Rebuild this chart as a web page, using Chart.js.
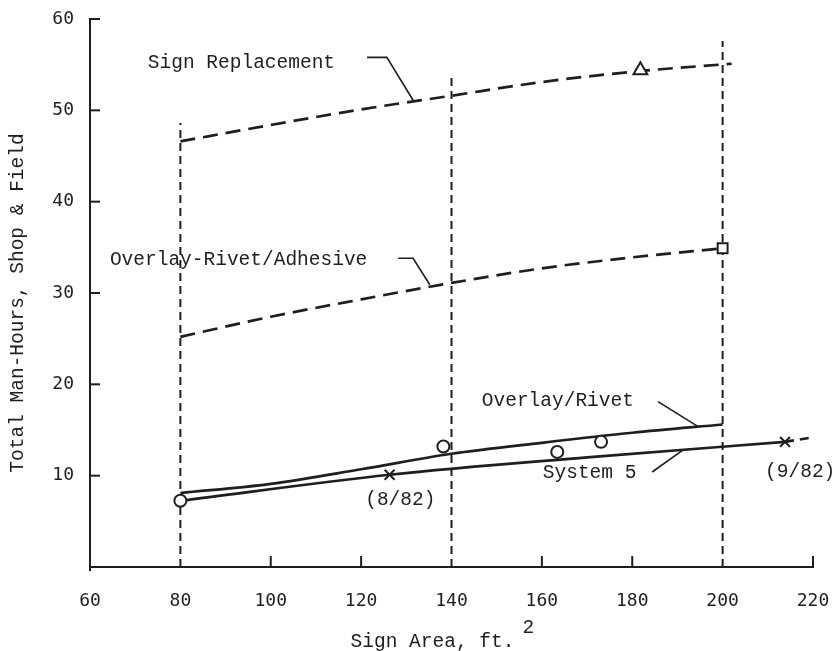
<!DOCTYPE html>
<html lang="en">
<head>
<meta charset="UTF-8">
<title>Total Man-Hours vs Sign Area</title>
<script src="https://cdn.jsdelivr.net/npm/chart.js"></script>
<style>
  body { margin: 0; background: #fff; }
</style>
</head>
<body>
<canvas id="chart" width="835" height="651"></canvas>
<script>
// values (x = sign area ft^2, y = man-hours)
var signReplX = [80, 100, 120, 140, 160, 181.8, 202];
var signReplY = [46.6, 48.4, 50.1, 51.6, 53.1, 54.3, 55.1];

var adhesiveX = [80, 100, 120, 140, 160, 180, 200];
var adhesiveY = [25.2, 27.4, 29.3, 31.1, 32.7, 33.9, 34.9];

var rivetX = [80, 100, 120, 140, 160, 180, 200];
var rivetY = [8.1, 9.1, 10.7, 12.4, 13.6, 14.7, 15.6];

var system5X = [80, 126.3, 170, 213.8];
var system5Y = [7.25, 10.1, 12.0, 13.7];
var system5ExtX = [213.8, 220];
var system5ExtY = [13.7, 14.2];

// observed points
var circleX = [80, 138.2, 163.4, 173.1];
var circleY = [7.25, 13.2, 12.6, 13.7];
var crossX = [126.3, 213.8];
var crossY = [10.1, 13.7];
var triangleX = [181.8];
var triangleY = [54.4];
var squareX = [200];
var squareY = [34.9];

// vertical dashed guides
var guideX = [80, 140, 200];
var guideTop = [48.6, 53.7, 57.6];

// leader lines for the curve labels
var leaderSignX = [121.3, 125.7, 131.5];
var leaderSignY = [55.8, 55.8, 51.1];
var leaderAdhX = [128.2, 131.5, 135.2];
var leaderAdhY = [33.8, 33.8, 30.9];
var leaderRivetX = [185.7, 194.5];
var leaderRivetY = [18.1, 15.4];
var leaderSys5X = [184.4, 191.2];
var leaderSys5Y = [10.4, 12.8];

// annotation texts (left edge, vertical middle)
var noteText = ['Sign Replacement', 'Overlay-Rivet/Adhesive', 'Overlay/Rivet', 'System 5', '(8/82)', '(9/82)'];
var noteX = [72.8, 64.4, 146.7, 160.2, 120.9, 209.4];
var noteY = [55.2, 33.6, 18.2, 10.3, 7.3, 10.4];

var xTicks = [60, 80, 100, 120, 140, 160, 180, 200, 220];
var yTicks = [10, 20, 30, 40, 50, 60];
var innerXTicks = [100, 120, 160, 180, 220];

var ink = '#1e1e1e';
var monoFont = '"Liberation Mono", "DejaVu Sans Mono", monospace';
var tickFont = '"DejaVu Sans Mono", monospace';

function pts(xs, ys) {
    return xs.map(function (x, i) { return { x: x, y: ys[i] }; });
}

function lineSet(xs, ys, dash, width) {
    return {
        data: pts(xs, ys),
        borderColor: ink,
        borderWidth: width || 2.7,
        borderDash: dash || [],
        pointRadius: 0,
        fill: false,
        cubicInterpolationMode: xs.length > 3 ? 'monotone' : 'default'
    };
}

function markerSet(xs, ys, style, radius) {
    return {
        data: pts(xs, ys),
        showLine: false,
        pointStyle: style,
        pointRadius: radius,
        pointBorderWidth: 2,
        pointBorderColor: ink,
        pointBackgroundColor: '#fff'
    };
}

var datasets = [
    markerSet(triangleX, triangleY, 'triangle', 8),
    markerSet(squareX, squareY, 'rect', 7),
    markerSet(circleX, circleY, 'circle', 6),
    markerSet(crossX, crossY, 'crossRot', 7),
    lineSet(signReplX, signReplY, [15, 8]),
    lineSet(adhesiveX, adhesiveY, [15, 8]),
    lineSet(rivetX, rivetY),
    lineSet(system5X, system5Y),
    lineSet(system5ExtX, system5ExtY, [9, 6]),
    lineSet(leaderSignX, leaderSignY, [], 1.6),
    lineSet(leaderAdhX, leaderAdhY, [], 1.6),
    lineSet(leaderRivetX, leaderRivetY, [], 1.6),
    lineSet(leaderSys5X, leaderSys5Y, [], 1.6)
];
guideX.forEach(function (gx, i) {
    datasets.push(lineSet([gx, gx], [0, guideTop[i]], [8, 5], 2));
});

var extras = {
    id: 'extras',
    afterDatasetsDraw: function (chart) {
        var ctx = chart.ctx;
        var xs = chart.scales.x, ys = chart.scales.y;
        var area = chart.chartArea;
        ctx.save();
        ctx.strokeStyle = ink;
        ctx.lineWidth = 2;
        // inward tick marks
        yTicks.forEach(function (v) {
            var py = ys.getPixelForValue(v);
            ctx.beginPath();
            ctx.moveTo(xs.left, py);
            ctx.lineTo(xs.left + 10, py);
            ctx.stroke();
        });
        innerXTicks.forEach(function (v) {
            var px = xs.getPixelForValue(v);
            ctx.beginPath();
            ctx.moveTo(px, ys.bottom);
            ctx.lineTo(px, ys.bottom - 11);
            ctx.stroke();
        });
        // y axis runs a little past the x axis
        ctx.beginPath();
        ctx.moveTo(xs.left, ys.bottom);
        ctx.lineTo(xs.left, ys.bottom + 4);
        ctx.stroke();
        // curve notes
        ctx.fillStyle = ink;
        ctx.font = '19.5px ' + monoFont;
        ctx.textBaseline = 'middle';
        ctx.textAlign = 'left';
        noteText.forEach(function (t, i) {
            ctx.fillText(t, xs.getPixelForValue(noteX[i]), ys.getPixelForValue(noteY[i]));
        });
        // x axis title with superscript
        var cx = (area.left + area.right) / 2 - 19;
        var ty = xs.bottom - 9;
        ctx.textAlign = 'center';
        ctx.fillText('Sign Area, ft.', cx, ty);
        var w = ctx.measureText('Sign Area, ft.').width;
        ctx.textAlign = 'left';
        ctx.fillText('2', cx + w / 2 + 8, ty - 14);
        // y axis title, rotated
        ctx.translate(ys.left + 18, (area.top + area.bottom) / 2 + 10);
        ctx.rotate(-Math.PI / 2);
        ctx.textAlign = 'center';
        ctx.fillText('Total Man-Hours, Shop & Field', 0, 0);
        ctx.restore();
    }
};

new Chart(document.getElementById('chart').getContext('2d'), {
    type: 'line',
    data: { datasets: datasets },
    options: {
        responsive: false,
        animation: false,
        devicePixelRatio: 1,
        layout: { padding: { top: 19, right: 22, left: 0, bottom: 0 } },
        plugins: { legend: { display: false }, tooltip: { enabled: false } },
        scales: {
            x: {
                type: 'linear',
                min: 60,
                max: 220,
                afterFit: function (s) { s.height = 84; },
                afterBuildTicks: function (s) { s.ticks = xTicks.map(function (v) { return { value: v }; }); },
                // tick marks hidden; tickLength only spaces the labels
                grid: { display: false, drawTicks: true, tickLength: 24 },
                border: { display: true, color: ink, width: 2 },
                ticks: { color: ink, font: { family: tickFont, size: 18 }, padding: 0, maxRotation: 0 }
            },
            y: {
                type: 'linear',
                min: 0,
                max: 60,
                afterFit: function (s) { s.width = 90; },
                afterBuildTicks: function (s) { s.ticks = yTicks.map(function (v) { return { value: v }; }); },
                grid: { display: false, drawTicks: true, tickLength: 16 },
                border: { display: true, color: ink, width: 2 },
                ticks: { color: ink, font: { family: tickFont, size: 18 }, padding: 0 }
            }
        }
    },
    plugins: [extras]
});
</script>
</body>
</html>
